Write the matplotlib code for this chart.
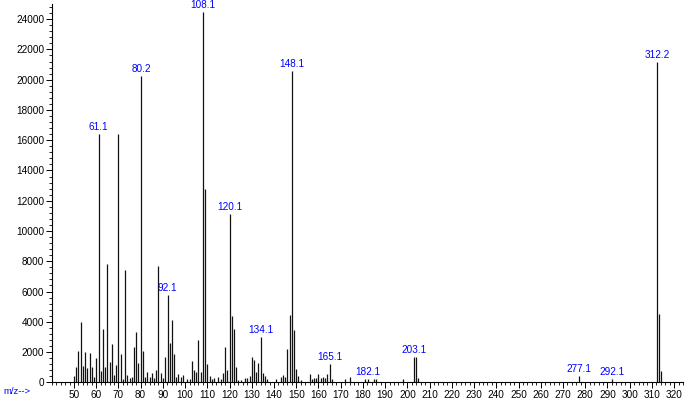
import matplotlib
matplotlib.use("Agg")
import matplotlib.pyplot as plt
from matplotlib.ticker import MultipleLocator

plt.rcParams['font.family'] = ['Liberation Sans', 'DejaVu Sans']

mz = [50, 51, 52, 53, 54, 55, 56, 57, 58, 59, 60, 61.1, 62, 63, 64, 65, 66, 67, 68, 69,
      70, 71, 72, 73, 74, 75, 76, 77, 78, 79, 80.2, 81, 82, 83, 84, 85, 86, 87, 88, 89,
      90, 91, 92.1, 93, 94, 95, 96, 97, 98, 99, 101, 102, 103, 104, 105, 106, 107, 108.1,
      109, 110, 111, 112, 113, 115, 116, 117, 118, 119, 120.1, 121, 122, 123, 124, 125,
      127, 128, 129, 130, 131, 132, 133, 134.1, 135, 136, 137, 141, 143, 144, 145, 146,
      147, 148.1, 149, 150, 151, 152, 156, 157, 158, 159, 160, 161, 162, 163, 164, 165.1,
      166, 172, 174, 181, 182.1, 185, 186, 198, 203.1, 204, 205, 277.1, 292.1, 312.2,
      313, 314]
abundance = [400, 1000, 2100, 4000, 1100, 2000, 950, 1930, 1010, 350, 1600, 16430, 750,
             3540, 1010, 7820, 1340, 2500, 480, 1140, 16400, 1850, 200, 7440, 480, 300,
             330, 2330, 3340, 1270, 20240, 2090, 350, 680, 350, 590, 260, 810, 7690, 590,
             260, 1670, 5770, 2570, 4150, 1870, 350, 570, 370, 480, 220, 200, 1400, 790,
             680, 2790, 680, 24470, 12780, 1190, 400, 240, 260, 330, 220, 590, 2330, 810,
             11120, 4370, 3500, 1010, 180, 180, 290, 290, 440, 1670, 1450, 660, 1250, 2970,
             590, 440, 220, 220, 370, 460, 350, 2180, 4440, 20560, 3450, 900, 440, 180,
             550, 240, 310, 310, 530, 290, 330, 310, 550, 1230, 200, 240, 330, 220, 220,
             220, 220, 240, 1670, 1670, 290, 420, 220, 21190, 4510, 770]
labeled = [61.1, 80.2, 92.1, 108.1, 120.1, 134.1, 148.1, 165.1, 182.1, 203.1, 277.1,
           292.1, 312.2]

fig = plt.figure(figsize=(6.85, 4.01), dpi=100)
ax = fig.add_axes([0.0755, 0.0466, 0.9216, 0.9434])

ax.vlines(mz, 0, abundance, colors='#111111', linewidth=0.9)

blue = '#0000ff'
for m in labeled:
    h = abundance[mz.index(m)]
    ax.annotate(f"{m:.1f}", xy=(m, h), xytext=(0, 1.5), textcoords='offset points',
                ha='center', va='bottom', color=blue, fontsize=7.2, clip_on=False,
                annotation_clip=False)

ax.set_xlim(40, 324)
ax.set_ylim(0, 25000)
ax.xaxis.set_major_locator(MultipleLocator(10))
ax.xaxis.set_minor_locator(MultipleLocator(2))
ax.yaxis.set_major_locator(MultipleLocator(2000))
ax.yaxis.set_minor_locator(MultipleLocator(400))
ax.set_xticks(list(range(50, 321, 10)))
for s in ['top', 'right']:
    ax.spines[s].set_visible(False)
for s in ['left', 'bottom']:
    ax.spines[s].set_linewidth(0.8)
ax.tick_params(axis='both', which='major', labelsize=7.2, length=4, width=0.7, pad=1.5)
ax.tick_params(axis='both', which='minor', length=2, width=0.6)

fig.text(0.005, 0.012, "m/z-->", color=blue, fontsize=6.8, ha='left', va='bottom')

fig.savefig("out.png", dpi=100)
